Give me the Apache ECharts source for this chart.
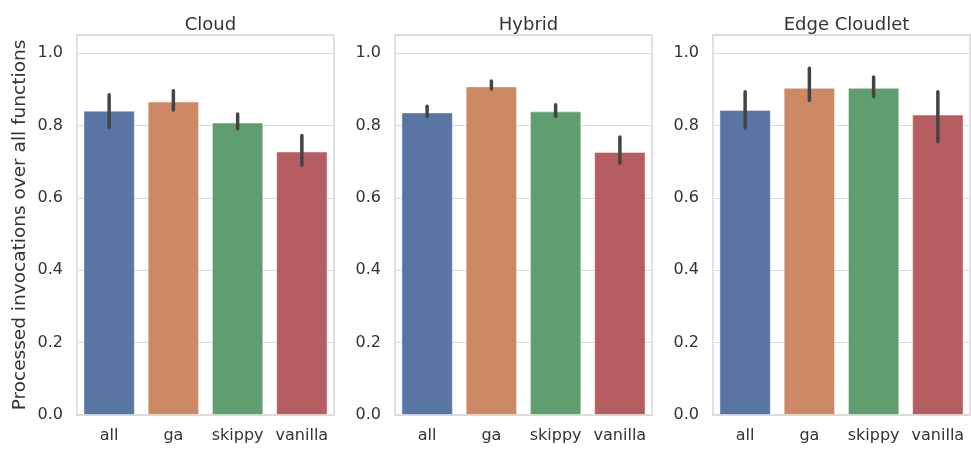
<!DOCTYPE html>
<html>
<head>
<meta charset="utf-8">
<script src="https://cdn.jsdelivr.net/npm/echarts@6/dist/echarts.min.js"></script>
<style>html,body{margin:0;padding:0;background:#fff}#chart{width:971px;height:449px}</style>
</head>
<body>
<div id="chart"></div>
<script>
const categories = ['all', 'ga', 'skippy', 'vanilla'];
const panelTitles = ['Cloud', 'Hybrid', 'Edge Cloudlet'];
const yTicks = [0, 0.2, 0.4, 0.6, 0.8, 1.0];
const yLabel = 'Processed invocations over all functions';
const barColors = ['#5975a4', '#cc8963', '#5f9e6e', '#b55d60'];

const cloudMean = [0.841, 0.866, 0.808, 0.728];
const cloudLow = [0.795, 0.843, 0.791, 0.690];
const cloudHigh = [0.885, 0.896, 0.832, 0.772];

const hybridMean = [0.836, 0.908, 0.839, 0.727];
const hybridLow = [0.825, 0.901, 0.825, 0.696];
const hybridHigh = [0.853, 0.923, 0.857, 0.768];

const edgeMean = [0.843, 0.904, 0.904, 0.830];
const edgeLow = [0.793, 0.869, 0.880, 0.756];
const edgeHigh = [0.893, 0.958, 0.934, 0.893];

const means = [cloudMean, hybridMean, edgeMean];
const lows = [cloudLow, hybridLow, edgeLow];
const highs = [cloudHigh, hybridHigh, edgeHigh];

const FONT = 'DejaVu Sans';
const gridLefts = [77, 395, 713];
const gridWidth = 257;
const gridTop = 35;
const gridHeight = 380;

const chart = echarts.init(document.getElementById('chart'), null, {renderer: 'canvas'});

const grids = [], xAxes = [], yAxes = [], titles = [], series = [];
for (let p = 0; p < 3; p++) {
  grids.push({
    left: gridLefts[p], top: gridTop, width: gridWidth, height: gridHeight,
    show: true, borderColor: '#d2d2d2', borderWidth: 1.3, backgroundColor: 'transparent'
  });
  titles.push({
    text: panelTitles[p],
    left: gridLefts[p] + gridWidth / 2, textAlign: 'center', top: 9,
    textStyle: {fontFamily: FONT, fontSize: 18, fontWeight: 'normal', color: '#333', lineHeight: 22}
  });
  xAxes.push({
    type: 'category', gridIndex: p, data: categories,
    axisLine: {show: false}, axisTick: {show: false},
    axisLabel: {fontFamily: FONT, fontSize: 16, color: '#333', margin: 13, interval: 0, hideOverlap: false},
    splitLine: {show: false}
  });
  yAxes.push({
    type: 'value', gridIndex: p, min: 0, max: 1.05, interval: 0.2,
    axisLine: {show: false}, axisTick: {show: false},
    axisLabel: {
      fontFamily: FONT, fontSize: 16, color: '#333', margin: 14, showMaxLabel: false,
      formatter: v => yTicks.some(t => Math.abs(t - v) < 1e-9) ? v.toFixed(1) : ''
    },
    splitLine: {show: true, lineStyle: {color: '#dadada', width: 1.2}},
    name: p === 0 ? yLabel : '',
    nameLocation: 'middle', nameGap: 47, nameRotate: 90,
    nameTextStyle: {fontFamily: FONT, fontSize: 18.5, color: '#333'}
  });
  series.push({
    type: 'bar', xAxisIndex: p, yAxisIndex: p, barWidth: '80%',
    data: means[p].map((v, i) => ({value: v, itemStyle: {color: barColors[i]}})),
    itemStyle: {borderColor: 'rgba(255,255,255,0.45)', borderWidth: 1},
    silent: true, animation: false, z: 2
  });
  series.push({
    type: 'custom', xAxisIndex: p, yAxisIndex: p,
    data: categories.map((c, i) => [i, lows[p][i], highs[p][i]]),
    renderItem: (params, api) => {
      const x = api.value(0);
      const a = api.coord([x, api.value(1)]);
      const b = api.coord([x, api.value(2)]);
      return {
        type: 'line',
        shape: {x1: a[0], y1: a[1], x2: b[0], y2: b[1]},
        style: {stroke: '#444444', lineWidth: 3.5, lineCap: 'round'}
      };
    },
    silent: true, animation: false, z: 5
  });
}

chart.setOption({
  animation: false,
  backgroundColor: '#ffffff',
  title: titles,
  grid: grids,
  xAxis: xAxes,
  yAxis: yAxes,
  series: series
});
</script>
</body>
</html>
